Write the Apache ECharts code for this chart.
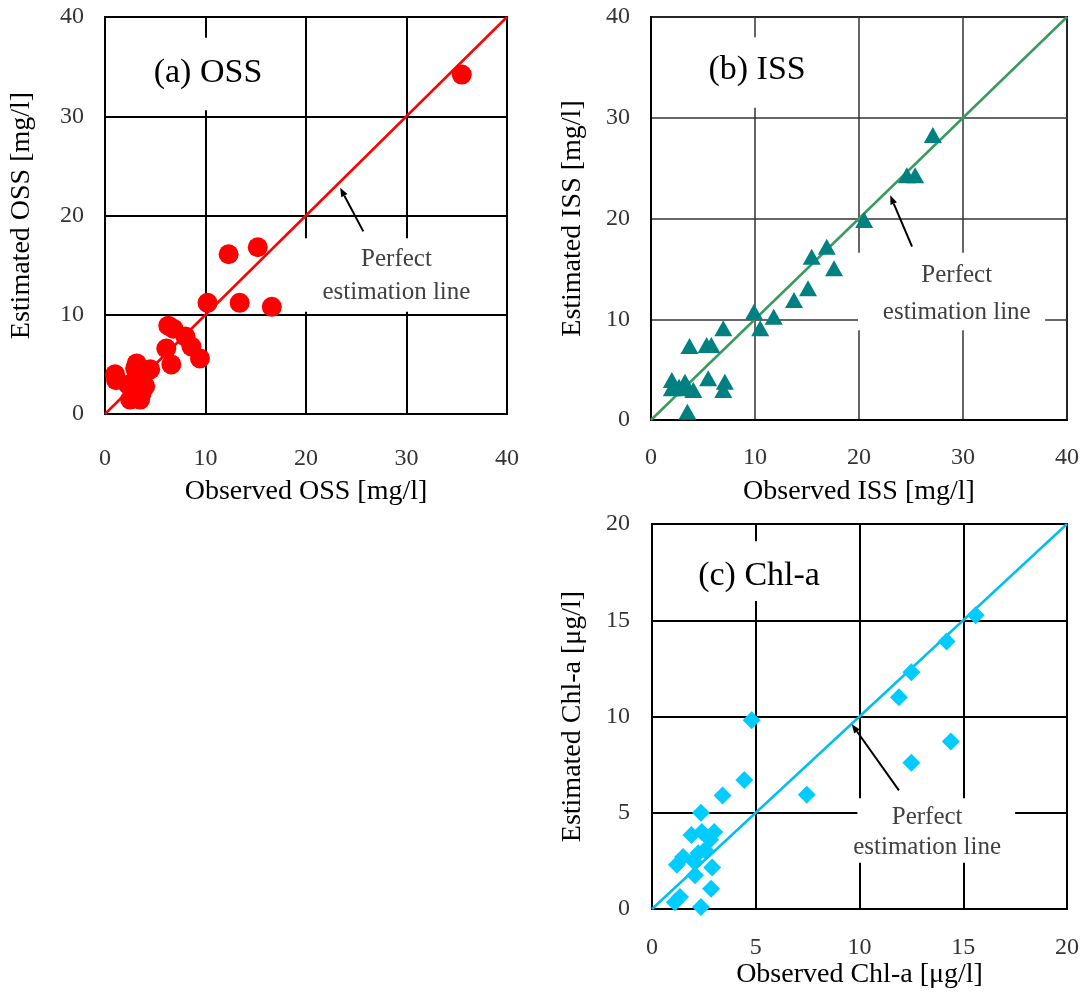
<!DOCTYPE html>
<html><head><meta charset="utf-8">
<script src="https://cdn.jsdelivr.net/npm/echarts@6/dist/echarts.min.js"></script>
<style>html,body{margin:0;padding:0;background:#fff}#c{width:1083px;height:999px}</style>
</head><body><div id="c"></div><script>
// (a) OSS
const ossObserved = [35.5,12.3,15.2,10.2,13.4,16.6,6.3,6.8,8.0,8.6,6.1,9.45,6.6,4.5,3.15,3.0,1.0,1.1,2.3,3.0,4.0,3.65,2.5,3.5];
const ossEstimated = [34.2,16.1,16.8,11.2,11.2,10.8,8.9,8.6,7.8,6.8,6.6,5.6,5.0,4.5,5.1,4.6,4.0,3.4,2.95,3.45,2.8,2.1,1.45,1.45];
// (b) ISS
const issObserved = [27.1,24.6,25.4,20.5,16.9,15.45,17.6,15.1,13.75,11.8,9.9,10.5,6.95,3.7,5.35,5.8,2.0,2.0,3.27,3.4,4.07,5.5,7.1,6.95,3.5,2.7];
const issEstimated = [28.3,24.3,24.3,19.85,17.2,16.2,15.05,13.07,11.9,10.25,10.75,9.1,9.1,7.35,7.44,7.44,3.97,3.15,3.8,3.15,2.98,4.14,3.8,2.98,0.83,3.3];
// (c) Chl-a
const chlObserved = [15.6,14.2,12.5,11.9,4.8,14.4,12.5,4.45,7.46,3.4,2.36,1.9,2.4,3.0,2.8,2.55,2.23,1.5,1.2,2.0,2.07,2.9,2.85,1.35,1.1,2.36];
const chlEstimated = [15.26,13.9,12.3,11.0,9.8,8.7,7.6,6.7,5.94,5.9,5.0,3.85,4.0,4.0,3.6,3.06,2.9,2.7,2.3,2.5,1.75,2.15,1.05,0.62,0.35,0.1];
// perfect estimation lines
const perfectLineSS = [[0,0],[40,40]];
const perfectLineChl = [[0,0],[20,20]];
const panelLabels = ['(a) OSS','(b) ISS','(c) Chl-a'];
const xTitles = ['Observed OSS [mg/l]','Observed ISS [mg/l]','Observed Chl-a [μg/l]'];
const yTitles = ['Estimated OSS [mg/l]','Estimated ISS [mg/l]','Estimated Chl-a [μg/l]'];

const FONT = '"Liberation Serif", "Times New Roman", serif';
const pair = (a,b) => a.map((v,i)=>[v,b[i]]);

function xAx(i, max, interval, labelMargin, nameGap, gridW){
  return {gridIndex:i, type:'value', min:0, max:max, interval:interval,
    name:xTitles[i], nameLocation:'middle', nameGap:nameGap,
    nameTextStyle:{fontFamily:FONT, fontSize:28, color:'#000'},
    axisLine:{show:true, onZero:false, lineStyle:{color:'#000', width:2}},
    axisTick:{show:false},
    axisLabel:{margin:labelMargin, fontFamily:FONT, fontSize:24, color:'#333'},
    splitLine:{show:true, lineStyle:{color: i===1?'#333':'#000', width:gridW}}};
}
function yAx(i, max, interval, labelMargin, nameGap, gridW){
  return {gridIndex:i, type:'value', min:0, max:max, interval:interval,
    name:yTitles[i], nameLocation:'middle', nameGap:nameGap, nameRotate:90,
    nameTextStyle:{fontFamily:FONT, fontSize:28, color:'#000'},
    axisLine:{show:true, onZero:false, lineStyle:{color:'#000', width:2}},
    axisTick:{show:false},
    axisLabel:{margin:labelMargin, fontFamily:FONT, fontSize:24, color:'#333'},
    splitLine:{show:true, lineStyle:{color: i===1?'#333':'#000', width:gridW}}};
}

const chart = echarts.init(document.getElementById('c'), null, {renderer:'canvas'});
chart.setOption({
  backgroundColor:'#fff',
  animation:false,
  grid:[
    {left:105, top:17, width:402, height:397, outerBoundsMode:'none', show:true, borderColor:'#000', borderWidth:2},
    {left:651, top:17, width:416, height:403, outerBoundsMode:'none', show:true, borderColor:'#000', borderWidth:2},
    {left:652, top:524, width:415, height:385, outerBoundsMode:'none', show:true, borderColor:'#000', borderWidth:2}
  ],
  xAxis:[xAx(0,40,10,33,64,2), xAx(1,40,10,26,58,1.5), xAx(2,20,5,27,50,2)],
  yAxis:[yAx(0,40,10,21,69,2), yAx(1,40,10,21,64,1.5), yAx(2,20,5,22,65,2)],
  series:[
    {type:'line', xAxisIndex:0, yAxisIndex:0, data:perfectLineSS, symbol:'none', silent:true, lineStyle:{color:'#FF0000', width:2.5}, z:2},
    {type:'scatter', xAxisIndex:0, yAxisIndex:0, data:pair(ossObserved, ossEstimated), symbol:'circle', symbolSize:20, itemStyle:{color:'#FF0000', opacity:1}, z:3},
    {type:'line', xAxisIndex:1, yAxisIndex:1, data:perfectLineSS, symbol:'none', silent:true, lineStyle:{color:'#3A9A5C', width:2.5}, z:2},
    {type:'scatter', xAxisIndex:1, yAxisIndex:1, data:pair(issObserved, issEstimated), symbol:'triangle', symbolSize:[18,16], itemStyle:{color:'#008080', opacity:1}, z:3},
    {type:'line', xAxisIndex:2, yAxisIndex:2, data:perfectLineChl, symbol:'none', silent:true, lineStyle:{color:'#00BFF0', width:2.5}, z:2},
    {type:'scatter', xAxisIndex:2, yAxisIndex:2, data:pair(chlObserved, chlEstimated), symbol:'diamond', symbolSize:[18,18], itemStyle:{color:'#00CCFF', opacity:1}, z:3}
  ]
});

// annotations placed in data coordinates of each panel
const annos = [
  {label:[10.25,34.35], labelBox:[2.5,37.9,18.9,30.6], box:[19.4,17.7,38.8,10.3], perfect:[29.0,15.6], est:[29.0,12.2], tail:[25.7,18.4], tip:[23.4,22.8]},
  {label:[10.2,34.7], labelBox:[3.75,38.0,17.2,31.0], box:[19.9,16.6,37.9,8.9], perfect:[29.4,14.3], est:[29.4,10.7], tail:[25.1,17.2], tip:[23.0,22.3]},
  {label:[5.16,17.27], labelBox:[1.83,19.1,8.8,16.0], box:[9.9,5.75,17.5,2.4], perfect:[13.26,4.77], est:[13.26,3.2], tail:[11.9,6.16], tip:[9.63,9.6]}
];
const g = [];
annos.forEach((a,i)=>{
  const P = v => chart.convertToPixel({gridIndex:i}, v);
  const rect = (b) => { const p1=P([b[0],b[1]]), p2=P([b[2],b[3]]); return {x:p1[0], y:p1[1], width:p2[0]-p1[0], height:p2[1]-p1[1]}; };
  g.push({type:'rect', shape:rect(a.labelBox), style:{fill:'#fff'}, z:1, silent:true});
  g.push({type:'rect', shape:rect(a.box), style:{fill:'#fff'}, z:1, silent:true});
  const lp = P(a.label);
  g.push({type:'text', x:lp[0], y:lp[1], z:5, style:{text:panelLabels[i], font:'34px '+FONT, fill:'#000', align:'center', verticalAlign:'middle'}});
  const pp = P(a.perfect), ep = P(a.est);
  g.push({type:'text', x:pp[0], y:pp[1], z:5, style:{text:'Perfect', font:'25px '+FONT, fill:'#404040', align:'center', verticalAlign:'middle'}});
  g.push({type:'text', x:ep[0], y:ep[1], z:5, style:{text:'estimation line', font:'25px '+FONT, fill:'#404040', align:'center', verticalAlign:'middle'}});
  const t0 = P(a.tail), t1 = P(a.tip);
  const dx=t1[0]-t0[0], dy=t1[1]-t0[1], L=Math.hypot(dx,dy), ux=dx/L, uy=dy/L;
  const hl=9, hw=3.5;
  const bx=t1[0]-ux*hl, by=t1[1]-uy*hl;
  g.push({type:'line', z:5, silent:true, shape:{x1:t0[0], y1:t0[1], x2:bx, y2:by}, style:{stroke:'#000', lineWidth:2}});
  g.push({type:'polygon', z:5, silent:true, shape:{points:[[t1[0],t1[1]],[bx-uy*hw, by+ux*hw],[bx+uy*hw, by-ux*hw]]}, style:{fill:'#000'}});
});
chart.setOption({graphic:g});
</script></body></html>
